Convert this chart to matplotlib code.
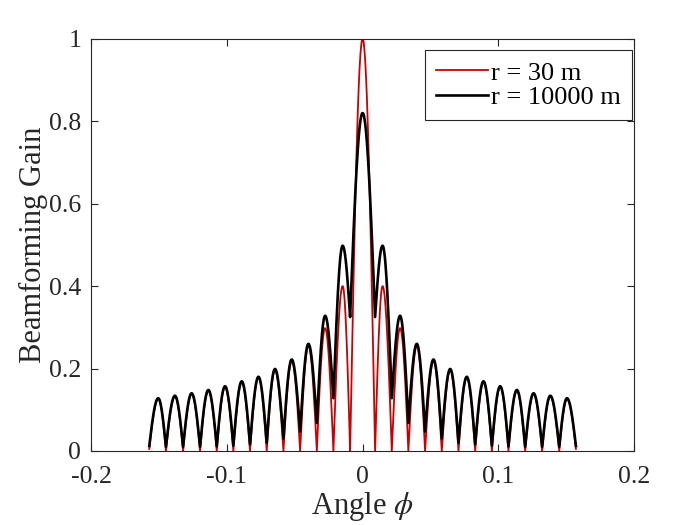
import numpy as np
import matplotlib
matplotlib.use('Agg')
import matplotlib.pyplot as plt

plt.rcParams['font.family'] = ['Liberation Serif', 'DejaVu Serif']
plt.rcParams['mathtext.fontset'] = 'stix'
plt.rcParams['axes.unicode_minus'] = False

# 零点(谷底)位置与各瓣峰值位置
null_angle = [-0.1571, -0.1448, -0.1322, -0.1197, -0.1074, -0.0952, -0.0829,
              -0.0706, -0.0583, -0.0460, -0.0337, -0.0215, -0.0092,
              0.0092, 0.0215, 0.0337, 0.0460, 0.0583, 0.0706, 0.0829,
              0.0952, 0.1074, 0.1197, 0.1322, 0.1448, 0.1571]
peak_angle = [-0.1505, -0.1382, -0.1259, -0.1136, -0.1013, -0.0890, -0.0767,
              -0.0645, -0.0522, -0.0399, -0.0276, -0.0147, 0.0,
              0.0147, 0.0276, 0.0399, 0.0522, 0.0645, 0.0767, 0.0890,
              0.1013, 0.1136, 0.1259, 0.1382, 0.1505]

# r = 30 m (红)
near_peak = [0.126, 0.132, 0.138, 0.146, 0.155, 0.166, 0.178, 0.196, 0.218,
             0.255, 0.298, 0.400, 1.000,
             0.400, 0.298, 0.255, 0.218, 0.196, 0.178, 0.166, 0.155, 0.146,
             0.138, 0.132, 0.126]
near_null = [0.005, 0, 0, 0, 0, 0, 0, 0, 0, 0, 0, 0, 0,
             0, 0, 0, 0, 0, 0, 0, 0, 0, 0, 0, 0, 0.005]

# r = 10000 m (黑)
far_peak = [0.128, 0.134, 0.140, 0.148, 0.157, 0.169, 0.180, 0.199, 0.222,
            0.260, 0.328, 0.498, 0.820,
            0.498, 0.328, 0.260, 0.222, 0.199, 0.180, 0.169, 0.157, 0.148,
            0.140, 0.134, 0.128]
far_null = [0.012, 0.010, 0.010, 0.010, 0.011, 0.013, 0.016, 0.020, 0.030,
            0.047, 0.068, 0.128, 0.325,
            0.325, 0.128, 0.068, 0.047, 0.030, 0.020, 0.016, 0.013, 0.011,
            0.010, 0.010, 0.010, 0.012]


def lobes(nx, ny, px, py, n=30):
    # 每一瓣: 零点处尖, 峰值处圆
    xs, ys = [], []
    t = np.linspace(0, 1, n)
    for i in range(len(px)):
        up = ny[i] + (py[i] - ny[i]) * np.sin(np.pi / 2 * t)
        xs.append(nx[i] + (px[i] - nx[i]) * t)
        ys.append(up)
        down = py[i] + (ny[i + 1] - py[i]) * (1 - np.cos(np.pi / 2 * t))
        xs.append(px[i] + (nx[i + 1] - px[i]) * t)
        ys.append(down)
    return np.concatenate(xs), np.concatenate(ys)


fig = plt.figure(figsize=(7, 5.25), dpi=100)
ax = fig.add_axes([0.130, 0.141, 0.776, 0.785])

x1, y1 = lobes(null_angle, near_null, peak_angle, near_peak)
x2, y2 = lobes(null_angle, far_null, peak_angle, far_peak)
ax.plot(x1, y1, color='#cc0000', lw=1.3, label='r = 30 m')
ax.plot(x2, y2, color='black', lw=1.9, label='r = 10000 m')

ax.set_xlim(-0.2, 0.2)
ax.set_ylim(0, 1)
ax.set_xticks([-0.2, -0.1, 0, 0.1, 0.2])
ax.set_xticklabels(['-0.2', '-0.1', '0', '0.1', '0.2'])
ax.set_yticks([0, 0.2, 0.4, 0.6, 0.8, 1])
ax.set_yticklabels(['0', '0.2', '0.4', '0.6', '0.8', '1'])
ax.tick_params(direction='in', top=True, right=True, length=5, width=0.8,
               labelsize=18.5, colors='#262626', pad=7)
ax.tick_params(axis='x', pad=11)
for s in ax.spines.values():
    s.set_linewidth(0.8)
    s.set_color('#262626')

ax.set_xlabel(r'Angle $\phi$', fontsize=22, color='#262626', labelpad=1)
ax.set_ylabel('Beamforming Gain', fontsize=22, color='#262626', labelpad=1)

leg = ax.legend(loc='upper right', bbox_to_anchor=(0.996, 0.973),
                borderaxespad=0, fancybox=False, edgecolor='#262626',
                framealpha=1, fontsize=19, handlelength=2.0,
                handletextpad=0.1, borderpad=0.42, labelspacing=0.05)
leg.get_frame().set_linewidth(0.8)

fig.savefig('out.png', dpi=100)
